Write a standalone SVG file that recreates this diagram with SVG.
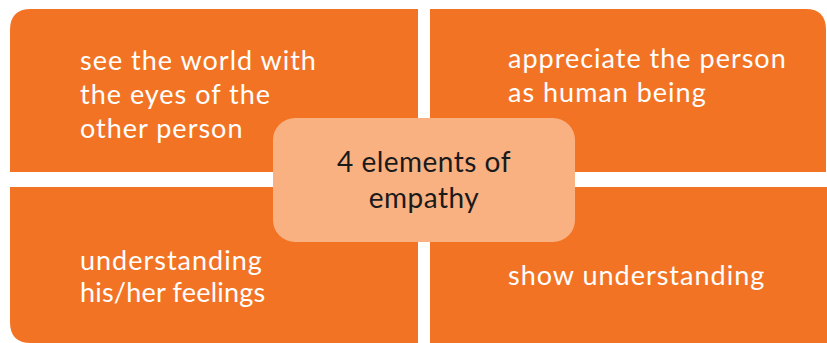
<svg xmlns="http://www.w3.org/2000/svg" width="827" height="343" viewBox="0 0 827 343">
<style>
.q{fill:#F37325}
.t{font-family:Lato,"Open Sans",sans-serif;font-size:27px;letter-spacing:1px;fill:#ffffff}
.c{font-family:Lato,"Open Sans",sans-serif;font-size:28px;letter-spacing:0.5px;fill:#1a1a1a;text-anchor:middle}
</style>
<rect width="827" height="343" fill="#ffffff"/>
<g id="q1"><path class="q" d="M10,30 Q10,9 31,9 L418,9 L418,172 L10,172 Z"/>
<text class="t" x="80" y="70">see the world with</text><text class="t" x="80" y="104">the eyes of the</text><text class="t" x="80" y="138">other person</text></g>
<g id="q2"><path class="q" d="M430,9 L806,9 Q826,9 826,30 L826,172 L430,172 Z"/>
<text class="t" x="508" y="68">appreciate the person</text><text class="t" x="508" y="102">as human being</text></g>
<g id="q3"><path class="q" d="M10,187 L418,187 L418,343 L31,343 Q10,343 10,322 Z"/>
<text class="t" x="80" y="270">understanding</text><text class="t" x="80" y="302" style="letter-spacing:0.2px">his/her feelings</text></g>
<g id="q4"><path class="q" d="M430,187 L827,187 L827,343 L430,343 Z"/>
<text class="t" x="508" y="285">show understanding</text></g>
<g id="center"><rect x="273" y="118" width="302" height="124" rx="22" fill="#F9B182"/>
<text class="c" x="424" y="172">4 elements of</text><text class="c" x="424" y="208">empathy</text></g>
<g id="connectors"/>
</svg>
